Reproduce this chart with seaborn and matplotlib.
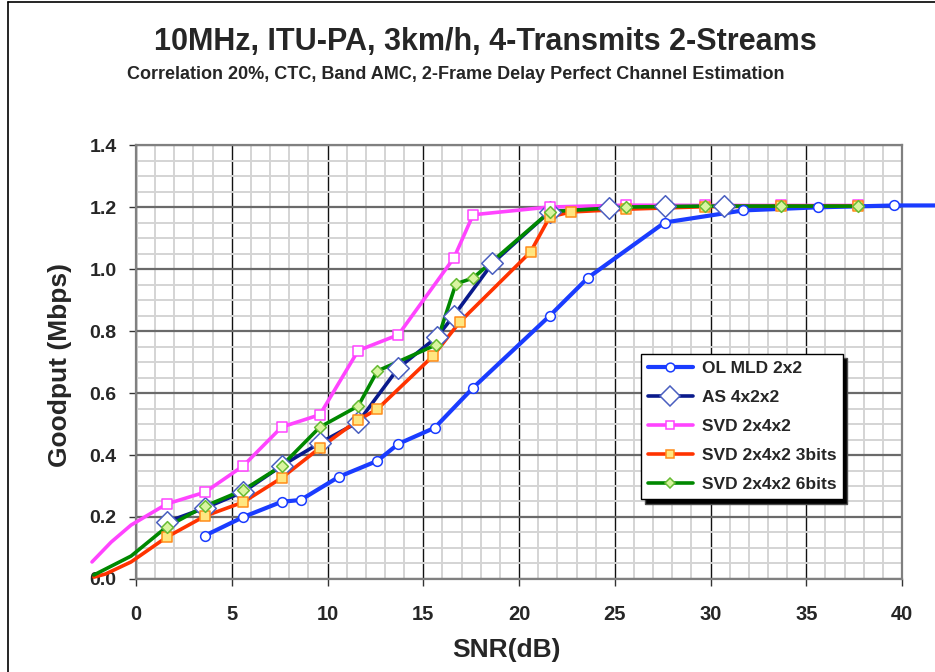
import matplotlib
matplotlib.use("Agg")
import matplotlib.pyplot as plt
import seaborn as sns
from matplotlib.lines import Line2D
from matplotlib.ticker import MultipleLocator

# SNR (dB) and goodput (Mbps)
ol_snr = [3.6, 5.6, 7.6, 8.6, 10.6, 12.6, 13.7, 15.6, 17.6, 21.6, 23.6, 27.6, 31.7, 35.6, 39.6, 43.7]
ol_goodput = [0.140, 0.200, 0.249, 0.255, 0.330, 0.381, 0.436, 0.488, 0.617, 0.849, 0.972, 1.150, 1.189, 1.199, 1.205, 1.205]

as_snr = [1.6, 3.6, 5.6, 7.6, 9.6, 11.6, 13.7, 15.7, 16.6, 18.6, 21.6, 24.7, 27.6, 30.7]
as_goodput = [0.184, 0.229, 0.281, 0.365, 0.439, 0.506, 0.681, 0.780, 0.850, 1.018, 1.185, 1.197, 1.204, 1.204]

svd_snr = [-2.3, -1.3, -0.26, 1.6, 3.6, 5.6, 7.6, 9.6, 11.6, 13.7, 16.6, 17.6, 21.6, 25.6, 29.7, 33.7, 37.7]
svd_goodput = [0.055, 0.119, 0.174, 0.242, 0.280, 0.365, 0.490, 0.530, 0.737, 0.788, 1.036, 1.175, 1.200, 1.206, 1.205, 1.205, 1.205]

svd3_snr = [-2.2, -1.6, -0.26, 1.6, 3.6, 5.6, 7.6, 9.6, 11.6, 12.6, 15.5, 16.9, 20.6, 21.6, 22.7, 25.6, 29.7, 33.7, 37.7]
svd3_goodput = [0.006, 0.016, 0.055, 0.135, 0.203, 0.248, 0.326, 0.423, 0.513, 0.548, 0.719, 0.829, 1.055, 1.168, 1.184, 1.193, 1.201, 1.203, 1.203]

svd6_snr = [-2.2, -0.26, 1.6, 3.6, 5.6, 7.6, 9.6, 11.6, 12.6, 15.65, 16.7, 17.6, 21.6, 25.6, 29.7, 33.7, 37.7]
svd6_goodput = [0.013, 0.074, 0.168, 0.235, 0.287, 0.365, 0.490, 0.558, 0.671, 0.755, 0.952, 0.971, 1.185, 1.200, 1.203, 1.203, 1.203]

series = [
    ("OL MLD 2x2", ol_snr, ol_goodput, "#1a3cff", "o", "white", "#1a3cff", 7, 3.0),
    ("AS 4x2x2", as_snr, as_goodput, "#0a1a8c", "D", "white", "#4a5fc0", 11, 2.6),
    ("SVD 2x4x2", svd_snr, svd_goodput, "#ff44ff", "s", "white", "#ff44ff", 6.5, 2.6),
    ("SVD 2x4x2 3bits", svd3_snr, svd3_goodput, "#ff3300", "s", "#ffe680", "#ff8c1a", 6.5, 2.6),
    ("SVD 2x4x2 6bits", svd6_snr, svd6_goodput, "#008800", "D", "#d9f5a0", "#66bb33", 6, 2.6),
]

sns.set_theme(style="white")
plt.rcParams["font.family"] = ["Liberation Sans", "DejaVu Sans"]

fig = plt.figure(figsize=(9.35, 6.72), dpi=100)
ax = fig.add_axes([0.1455, 0.1384, 0.8193, 0.6458])

for name, x, y, color, marker, fill, edge, ms, lw in series:
    sns.lineplot(x=x, y=y, ax=ax, color=color, lw=lw, sort=False, estimator=None,
                 clip_on=False, zorder=3)
for name, x, y, color, marker, fill, edge, ms, lw in series:
    mx = [a for a in x if 0 <= a <= 40]
    my = [b for a, b in zip(x, y) if 0 <= a <= 40]
    sns.scatterplot(x=mx, y=my, ax=ax, marker=marker, s=ms ** 2, color=fill,
                    edgecolor=edge, linewidth=1.1, zorder=4, clip_on=False)

ax.set_xlim(0, 40)
ax.set_ylim(0, 1.4)
ax.set_xticks(range(0, 41, 5))
ax.set_yticks([0, 0.2, 0.4, 0.6, 0.8, 1.0, 1.2, 1.4])
ax.set_yticklabels(["0.0", "0.2", "0.4", "0.6", "0.8", "1.0", "1.2", "1.4"])
ax.xaxis.set_minor_locator(MultipleLocator(1))
ax.yaxis.set_minor_locator(MultipleLocator(0.05))
ax.grid(which="minor", color="#d4d4d4", lw=1.4)
ax.grid(which="major", axis="x", color="#111111", lw=1.0)
ax.grid(which="major", axis="y", color="#6a6a6a", lw=1.6)
ax.set_axisbelow(True)
for sp in ax.spines.values():
    sp.set_color("#808080")
    sp.set_linewidth(1.6)

ax.tick_params(axis="both", which="major", direction="out", length=5, width=1,
               color="#333333", left=True, bottom=True)
ax.tick_params(axis="both", which="minor", length=0)
ax.tick_params(axis="y", pad=9, labelsize=14)
ax.tick_params(axis="x", pad=14, labelsize=14.5)
for lab in ax.get_yticklabels() + ax.get_xticklabels():
    lab.set_fontweight("bold")
ax.set_xlabel("")
ax.set_ylabel("")

fig.text(0.064, 0.457, "Goodput (Mbps)", rotation=90, ha="center", va="center",
         fontsize=19, fontweight="bold")
fig.text(0.542, 0.033, "SNR(dB)", ha="center", va="center", fontsize=19,
         fontweight="bold")
fig.text(0.519, 0.937, "10MHz, ITU-PA, 3km/h, 4-Transmits 2-Streams", ha="center",
         va="center", fontsize=22, fontweight="bold")
fig.text(0.487, 0.889, "Correlation 20%, CTC, Band AMC, 2-Frame Delay Perfect Channel Estimation",
         ha="center", va="center", fontsize=13, fontweight="bold")

handles = [Line2D([], [], color=c, lw=lw, marker=m, markersize=ms * 0.9,
                  markerfacecolor=f, markeredgecolor=e, markeredgewidth=1.1)
           for name, x, y, c, m, f, e, ms, lw in series]
leg = ax.legend(handles, [s[0] for s in series], loc="upper left",
                bbox_to_anchor=(0.659, 0.518), borderaxespad=0, fancybox=False,
                framealpha=1, edgecolor="black", handlelength=2.6, handletextpad=0.5,
                labelspacing=0.8, prop={"weight": "bold", "size": 12.5},
                shadow={"ox": 3, "oy": -3, "facecolor": "black", "alpha": 1})
leg.get_frame().set_linewidth(1.0)

fig.add_artist(Line2D([0.009, 0.009], [0, 0.997], transform=fig.transFigure, color="black", lw=1.2))
fig.add_artist(Line2D([0.009, 1], [0.997, 0.997], transform=fig.transFigure, color="black", lw=1.2))

fig.savefig("out.png", dpi=100)
